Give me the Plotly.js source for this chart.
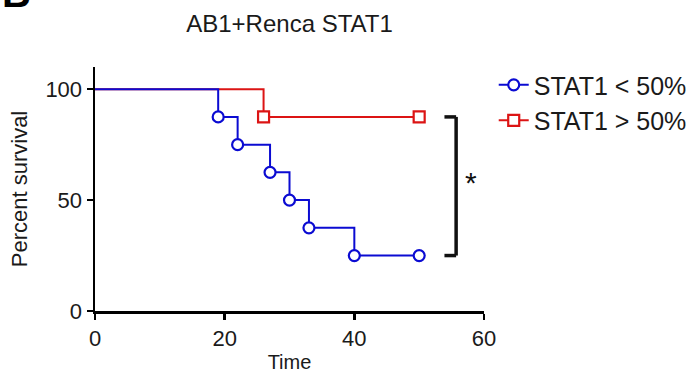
<!DOCTYPE html>
<html>
<head>
<meta charset="utf-8">
<script src="https://cdn.plot.ly/plotly-3.0.1.min.js"></script>
<style>html,body{margin:0;padding:0;background:#fff}#chart{width:694px;height:376px}</style>
</head>
<body>
<div id="chart"></div>
<script>
// Kaplan-Meier data
const lowTimes = [0, 19, 22, 27, 30, 33, 40, 50];
const lowSurvival = [100, 87.5, 75, 62.5, 50, 37.5, 25, 25];
const highTimes = [0, 26, 50];
const highSurvival = [100, 87.5, 87.5];
const seriesNames = ['STAT1 < 50%', 'STAT1 > 50%'];
const xTicks = [0, 20, 40, 60];
const yTicks = [0, 50, 100];
const significance = '*';

const FONT = 'Liberation Sans, Arial, Helvetica, sans-serif';
const BLUE = '#0b0bd2';
const RED = '#dc1414';

function kmTraces(times, surv, name, color, symbol) {
  // initial plateau (no marker), then steps with markers at each event / censor
  const head = {
    x: times.slice(0, 2), y: surv.slice(0, 2), type: 'scatter', mode: 'lines',
    line: {shape: 'hv', color: color, width: 2}, showlegend: false, hoverinfo: 'skip',
    legendgroup: name, cliponaxis: false
  };
  const tail = {
    x: times.slice(1), y: surv.slice(1), type: 'scatter', mode: 'lines+markers', name: name,
    line: {shape: 'hv', color: color, width: 2},
    marker: {symbol: symbol, size: 11, color: '#ffffff', line: {color: color, width: 2.2}},
    legendgroup: name, cliponaxis: false
  };
  return [head, tail];
}

const traces = [].concat(
  kmTraces(highTimes, highSurvival, seriesNames[1], RED, 'square'),
  kmTraces(lowTimes, lowSurvival, seriesNames[0], BLUE, 'circle')
);
// legend order: low first
traces[3].legendrank = 1;
traces[1].legendrank = 2;

const yTop = highSurvival[highSurvival.length - 1];
const yBot = lowSurvival[lowSurvival.length - 1];
const bx0 = 53.9, bx1 = 55.7;

const layout = {
  width: 694, height: 376,
  margin: {l: 95, r: 210, t: 67, b: 65, autoexpand: false},
  paper_bgcolor: '#ffffff', plot_bgcolor: '#ffffff',
  font: {family: FONT, color: '#1a1a1a'},
  showlegend: true,
  title: {text: 'AB1+Renca STAT1', font: {family: FONT, size: 24, color: '#1a1a1a'},
          x: 0.5, xref: 'paper', xanchor: 'center', y: 1 - 24 / 376, yref: 'container', yanchor: 'middle'},
  xaxis: {
    range: [0, 60], tickvals: xTicks, ticktext: xTicks.map(String), automargin: false,
    showline: true, linecolor: '#000', linewidth: 2.5, mirror: false,
    ticks: 'outside', ticklen: 6, tickwidth: 2.5, tickcolor: '#000',
    tickfont: {family: FONT, size: 22, color: '#1a1a1a'},
    showgrid: false, zeroline: false, fixedrange: true,
    title: {text: 'Time', font: {family: FONT, size: 20, color: '#1a1a1a'}, standoff: 5}
  },
  yaxis: {
    range: [0, 110], tickvals: yTicks, ticktext: yTicks.map(String), automargin: false,
    showline: true, linecolor: '#000', linewidth: 2.5,
    ticks: 'outside', ticklen: 6, tickwidth: 2.5, tickcolor: '#000',
    tickfont: {family: FONT, size: 22, color: '#1a1a1a'},
    showgrid: false, zeroline: false, fixedrange: true,
    title: {text: 'Percent survival', font: {family: FONT, size: 22, color: '#1a1a1a'}, standoff: 12}
  },
  legend: {
    x: 1.025, xref: 'paper', xanchor: 'left', y: 1.02, yanchor: 'top',
    font: {family: FONT, size: 25, color: '#1a1a1a'},
    bgcolor: 'rgba(0,0,0,0)', borderwidth: 0, traceorder: 'normal', itemwidth: 30
  },
  shapes: [
    {type: 'line', xref: 'x', yref: 'y', x0: bx1, x1: bx1, y0: yTop, y1: yBot, line: {color: '#111', width: 3.5}},
    {type: 'line', xref: 'x', yref: 'y', x0: bx0, x1: bx1, y0: yTop, y1: yTop, line: {color: '#111', width: 3.5}},
    {type: 'line', xref: 'x', yref: 'y', x0: bx0, x1: bx1, y0: yBot, y1: yBot, line: {color: '#111', width: 3.5}}
  ],
  annotations: [
    {text: significance, xref: 'x', yref: 'y', x: 58.0, y: (yTop + yBot) / 2, yshift: 4, showarrow: false,
     font: {family: FONT, size: 30, color: '#111'}, xanchor: 'center', yanchor: 'middle'},
    {text: '<b>B</b>', xref: 'paper', yref: 'paper', x: -0.245, y: 1.205, showarrow: false,
     xanchor: 'left', yanchor: 'bottom', font: {family: FONT, size: 40, color: '#000'}}
  ]
};

Plotly.newPlot('chart', traces, layout, {displayModeBar: false, staticPlot: true});
</script>
</body>
</html>
